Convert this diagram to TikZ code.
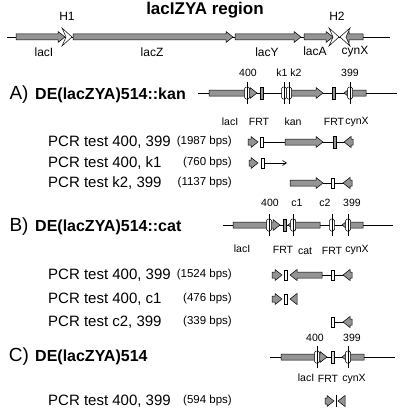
\documentclass[tikz,border=0pt]{standalone}
\usepackage{fontspec}
\setmainfont{Liberation Sans}
\usetikzlibrary{arrows.meta}
\newcommand\rgene[3]{\path[gene] (#1,#3-3) -- (#2-7,#3-3) -- (#2-7,#3-5.5) -- (#2,#3) -- (#2-7,#3+5.5) -- (#2-7,#3+3) -- (#1,#3+3) -- cycle;}
\newcommand\lgene[3]{\path[gene] (#2,#3-3) -- (#1+7,#3-3) -- (#1+7,#3-5.5) -- (#1,#3) -- (#1+7,#3+5.5) -- (#1+7,#3+3) -- (#2,#3+3) -- cycle;}
\newcommand\primerbox[2]{\draw[fill=white, line width=0.5pt, rounded corners=1.5pt] (#1-2.5,#2-6) rectangle (#1+2.5,#2+6); \draw[line width=0.6pt] (#1,#2-11) -- (#1,#2+11);}
\newcommand\frtbox[2]{\path[gene] (#1-1.6,#2-6) rectangle (#1+1.6,#2+6);}
\newcommand\wbox[2]{\draw[fill=white, line width=0.5pt] (#1-1.5,#2-5) rectangle (#1+1.5,#2+5);}
\newcommand\hpinR[2]{\draw[fill=white, line width=0.5pt] (#1-10,#2-9) -- (#1,#2) -- (#1-10,#2+9) -- (#1-6,#2) -- cycle;}
\newcommand\hpinL[2]{\draw[fill=white, line width=0.5pt] (#1+10,#2-9) -- (#1,#2) -- (#1+10,#2+9) -- (#1+6,#2) -- cycle;}
\begin{document}
\begin{tikzpicture}[x=1pt,y=-1pt,
  gene/.style={draw=black, line width=0.5pt, fill=black!42},
  dna/.style={line width=0.8pt},
  lbl/.style={font=\fontsize{10.5}{12}\selectfont, inner sep=0pt},
  toplbl/.style={font=\fontsize{12}{14}\selectfont, inner sep=0pt},
  pcr/.style={font=\fontsize{15}{18}\selectfont, anchor=west, inner sep=0pt},
  bps/.style={font=\fontsize{11.5}{14}\selectfont, anchor=east, inner sep=0pt},
  sec/.style={font=\fontsize{19}{22}\selectfont, inner sep=0pt},
  strain/.style={font=\fontsize{16}{19}\selectfont\bfseries, anchor=west, inner sep=0pt}]
\useasboundingbox (0,0) rectangle (400,412);
\fill[white] (0,0) rectangle (400,412);

% ---------- top: lacIZYA region ----------
\node[font=\fontsize{17}{20}\selectfont\bfseries, inner sep=0pt] (title) at (205,10) {lacIZYA region};
\draw[dna] (7,37) -- (390,37);
\rgene{16}{65}{37}
\rgene{73}{233}{37}
\rgene{235}{301}{37}
\rgene{304}{333}{37}
\lgene{342}{363}{37}
\hpinR{72}{37}
\hpinR{339}{37}
\hpinL{340}{37}
\node[toplbl] (h1) at (67,16) {H1};
\node[toplbl] (h2) at (337,16) {H2};
\node[toplbl] (tlacI) at (44,52) {lacI};
\node[toplbl] (tlacZ) at (152,52) {lacZ};
\node[toplbl] (tlacY) at (267,52) {lacY};
\node[toplbl] (tlacA) at (315,51) {lacA};
\node[toplbl] (tcynX) at (355,52) {cynX};

% ---------- A ----------
\node[sec] (secA) at (19,95) {A)};
\node[strain] (strA) at (35,95) {DE(lacZYA)514::kan};
\draw[dna] (198,93) -- (397,93);
\rgene{209}{257}{93}
\primerbox{247}{93}
\frtbox{262}{93}
\rgene{291}{323}{93}
\primerbox{284}{93}
\primerbox{289}{93}
\frtbox{334}{93}
\lgene{344}{366}{93}
\primerbox{350}{93}
\node[lbl] (a400) at (248,73) {400};
\node[lbl] (ak1) at (282,73) {k1};
\node[lbl] (ak2) at (296,73) {k2};
\node[lbl] (a399) at (350,73) {399};
\node[lbl] (alacI) at (230,122) {lacI};
\node[lbl] (afrt1) at (259,122) {FRT};
\node[lbl] (akan) at (293,122) {kan};
\node[lbl] (afrt2) at (334,122) {FRT};
\node[lbl] (acynX) at (357,122) {cynX};

\node[pcr] (pa1) at (48,142) {PCR test 400, 399};
\node[bps] (ba1) at (232,142) {(1987 bps)};
\draw[line width=0.6pt] (262,142) -- (346,142);
\rgene{248}{258}{142}
\wbox{262}{142}
\rgene{285}{323}{142}
\frtbox{335}{142}
\lgene{344}{353}{142}

\node[pcr] (pa2) at (48,163) {PCR test 400, k1};
\node[bps] (ba2) at (232,163) {(760 bps)};
\draw[line width=0.6pt, -{Straight Barb[length=4pt,width=5pt]}] (263,163) -- (287,163);
\rgene{249}{258}{163}
\wbox{263}{163}

\node[pcr] (pa3) at (48,183) {PCR test k2, 399};
\node[bps] (ba3) at (232,183) {(1137 bps)};
\draw[line width=0.6pt] (323,183) -- (345,183);
\rgene{290}{323}{183}
\wbox{333}{183}
\lgene{343}{352}{183}

% ---------- B ----------
\node[sec] (secB) at (19,227) {B)};
\node[strain] (strB) at (35,227) {DE(lacZYA)514::cat};
\draw[dna] (223,225) -- (393,225);
\rgene{233}{280}{225}
\primerbox{269}{225}
\frtbox{285}{225}
\lgene{288}{320}{225}
\primerbox{293}{225}
\primerbox{332}{225}
\lgene{342}{363}{225}
\primerbox{348}{225}
\node[lbl] (b400) at (270,203) {400};
\node[lbl] (bc1) at (297,203) {c1};
\node[lbl] (bc2) at (325,203) {c2};
\node[lbl] (b399) at (352,203) {399};
\node[lbl] (blacI) at (242,249) {lacI};
\node[lbl] (bfrt1) at (283,250) {FRT};
\node[lbl] (bcat) at (305,251) {cat};
\node[lbl] (bfrt2) at (332,251) {FRT};
\node[lbl] (bcynX) at (357,250) {cynX};

\node[pcr] (pb1) at (48,275) {PCR test 400, 399};
\node[bps] (bb1) at (232,275) {(1524 bps)};
\draw[line width=0.6pt] (322,275) -- (345,275);
\rgene{272}{282}{275}
\wbox{286}{275}
\lgene{290}{322}{275}
\wbox{333}{275}
\lgene{343}{352}{275}

\node[pcr] (pb2) at (48,299) {PCR test 400, c1};
\node[bps] (bb2) at (232,299) {(476 bps)};
\rgene{272}{282}{299}
\wbox{286}{299}
\lgene{290}{297}{299}

\node[pcr] (pb3) at (48,322) {PCR test c2, 399};
\node[bps] (bb3) at (232,322) {(339 bps)};
\draw[line width=0.6pt] (333,322) -- (345,322);
\wbox{333}{322}
\lgene{343}{352}{322}

% ---------- C ----------
\node[sec] (secC) at (19,357) {C)};
\node[strain] (strC) at (35,357) {DE(lacZYA)514};
\draw[dna] (270,357) -- (395,357);
\rgene{281}{327}{357}
\primerbox{317}{357}
\draw[fill=black!15, line width=0.5pt] (331.4,351) rectangle (334.6,363);
\lgene{342}{364}{357}
\primerbox{348}{357}
\node[lbl] (c400) at (315,338) {400};
\node[lbl] (c399) at (352,338) {399};
\node[lbl] (clacI) at (306,378) {lacI};
\node[lbl] (cfrt) at (328,379) {FRT};
\node[lbl] (ccynX) at (354,379) {cynX};

\node[pcr] (pc1) at (48,401) {PCR test 400, 399};
\node[bps] (bc1p) at (232,401) {(594 bps)};
\rgene{325}{334}{401}
\draw[line width=0.9pt] (336,395) -- (336,407);
\lgene{338}{345}{401}
\end{tikzpicture}
\end{document}
